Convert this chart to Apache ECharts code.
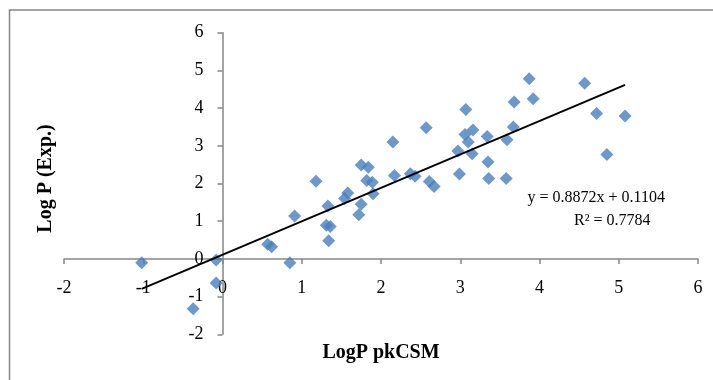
<!DOCTYPE html>
<html lang="en">
<head>
    <meta charset="UTF-8">
    <title>LogP pkCSM vs LogP Exp</title>
    <script src="https://cdn.jsdelivr.net/npm/echarts@6/dist/echarts.min.js"></script>
</head>
<body style="margin:0;background:#fff;">
    <div id="main" style="width: 713px;height:380px;"></div>
    <script type="text/javascript">
       // LogP predicted by pkCSM (x) against experimental LogP (y)
       var logpPred = [-1.02, -0.37, -0.08, -0.08, 0.57, 0.62, 0.85, 0.91, 1.18, 1.33,
                       1.31, 1.36, 1.34, 1.54, 1.58, 1.72, 1.75, 1.75, 1.84, 1.82,
                       1.89, 1.90, 2.17, 2.15, 2.37, 2.43, 2.57, 2.61, 2.67, 2.99,
                       2.97, 3.07, 3.06, 3.10, 3.16, 3.15, 3.34, 3.35, 3.36, 3.58,
                       3.59, 3.67, 3.68, 3.87, 3.92, 4.57, 4.72, 4.85, 5.08];
       var logpExp = [-0.10, -1.32, -0.03, -0.64, 0.39, 0.32, -0.10, 1.14, 2.06, 1.40,
                      0.89, 0.86, 0.48, 1.60, 1.75, 1.17, 1.45, 2.49, 2.43, 2.08,
                      2.03, 1.73, 2.21, 3.10, 2.26, 2.19, 3.48, 2.05, 1.92, 2.25,
                      2.86, 3.96, 3.30, 3.10, 3.42, 2.79, 3.25, 2.57, 2.13, 2.13,
                      3.16, 3.50, 4.16, 4.78, 4.25, 4.66, 3.86, 2.77, 3.79];
       var slope = 0.8872;
       var intercept = 0.1104;
       var rSquared = 0.7784;
       var axisTicks = [-2, -1, 0, 1, 2, 3, 4, 5, 6];

       var points = [];
       for (var i = 0; i < logpPred.length; i++) {
           points.push([logpPred[i], logpExp[i]]);
       }
       var xMin = Math.min.apply(null, logpPred);
       var xMax = Math.max.apply(null, logpPred);
       var trend = [[xMin, slope * xMin + intercept], [xMax, slope * xMax + intercept]];

       var serif = '"Liberation Serif", "DejaVu Serif", serif';
       var axisColor = '#868686';

       // grid box, in pixels
       var gLeft = 64, gRight = 698, gTop = 32.7, gBottom = 334.3;
       var lo = axisTicks[0], hi = axisTicks[axisTicks.length - 1];
       // move each axis onto the other axis's zero
       var xAxisOffset = -(gBottom - gTop) * (0 - lo) / (hi - lo);
       var yAxisOffset = -(gRight - gLeft) * (0 - lo) / (hi - lo);

       var myChart = echarts.init(document.getElementById("main"));
       var option = {
           animation: false,
           backgroundColor: '#fff',
           grid: {
               left: gLeft, right: 713 - gRight, top: gTop, bottom: 380 - gBottom,
               containLabel: false, outerBoundsMode: 'none'
           },
           xAxis: {
               type: 'value',
               position: 'bottom',
               offset: xAxisOffset,
               min: lo, max: hi, interval: 1,
               name: 'LogP pkCSM',
               nameLocation: 'middle',
               nameGap: 84,
               nameTextStyle: { fontFamily: serif, fontWeight: 'bold', fontSize: 20, color: '#000' },
               axisLine: { onZero: false, lineStyle: { color: axisColor, width: 1.5 } },
               axisTick: { show: true, length: 5, lineStyle: { color: axisColor, width: 1.5 } },
               axisLabel: { margin: 20, fontFamily: serif, fontSize: 18, color: '#000' },
               splitLine: { show: false }
           },
           yAxis: {
               type: 'value',
               position: 'left',
               offset: yAxisOffset,
               min: lo, max: hi, interval: 1,
               name: 'Log P (Exp.)',
               nameLocation: 'middle',
               nameGap: 167,
               nameTextStyle: { fontFamily: serif, fontWeight: 'bold', fontSize: 20, color: '#000', padding: [0, 0, 0, 10] },
               axisLine: { onZero: false, lineStyle: { color: axisColor, width: 1.5 } },
               axisTick: { show: true, length: 5, lineStyle: { color: axisColor, width: 1.5 } },
               axisLabel: { margin: 19, fontFamily: serif, fontSize: 18, color: '#000' },
               splitLine: { show: false }
           },
           graphic: [
               {
                   type: 'rect',
                   shape: { x: 9.5, y: 10, width: 760, height: 420 },
                   style: { fill: null, stroke: axisColor, lineWidth: 1.5 },
                   silent: true
               },
               {
                   type: 'text',
                   right: 713 - 665,
                   top: 190,
                   style: {
                       text: 'y = ' + slope.toFixed(4) + 'x + ' + intercept.toFixed(4),
                       font: '16px ' + serif, fill: '#000'
                   }
               },
               {
                   type: 'text',
                   left: 574,
                   top: 213,
                   style: {
                       text: 'R² = ' + rSquared.toFixed(4),
                       font: '16px ' + serif, fill: '#000'
                   }
               }
           ],
           series: [
               {
                   type: 'scatter',
                   data: points,
                   symbol: 'diamond',
                   symbolSize: 13,
                   itemStyle: { color: '#4a7ebb' },
                   z: 3
               },
               {
                   type: 'line',
                   data: trend,
                   showSymbol: false,
                   lineStyle: { color: '#000', width: 2 },
                   z: 4
               }
           ]
       };
       myChart.setOption(option);
    </script>
</body>
</html>
